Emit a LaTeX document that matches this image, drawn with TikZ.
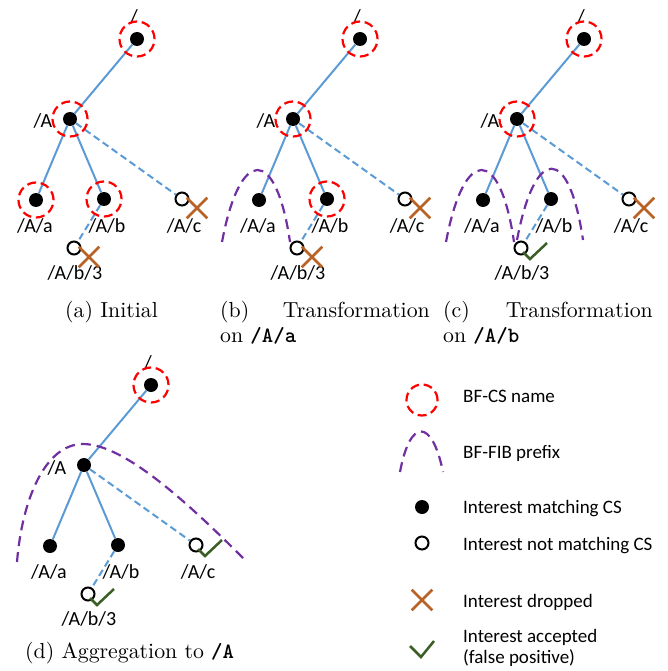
\documentclass[tikz,border=0pt]{standalone}
\usepackage{fontspec}
\newfontfamily\calfont{Carlito}
\newfontfamily\capfont{lmroman10-regular.otf}
\usetikzlibrary{shapes.misc}
\definecolor{eblue}{HTML}{5B9BD5}
\definecolor{fibpurple}{HTML}{7030A0}
\definecolor{dropbrown}{RGB}{184,98,38}
\definecolor{okgreen}{RGB}{59,94,39}
\tikzset{
 dot/.style={circle, fill=black, minimum size=14pt, inner sep=0pt},
 hollow/.style={circle, draw=black, line width=2pt, fill=white, minimum size=13pt, inner sep=0pt},
 edge/.style={eblue, line width=2pt},
 dedge/.style={eblue, line width=2pt, dash pattern=on 7pt off 4pt},
 csring/.style={circle, draw=red, line width=2.2pt, dash pattern=on 9pt off 4.7pt, minimum size=35pt, inner sep=0pt},
 fib/.style={fibpurple, line width=2.2pt, dash pattern=on 10pt off 6pt},
 dropmark/.style={cross out, draw=dropbrown, line width=2.6pt, minimum size=18pt, inner sep=0pt},
 okmark/.style={okgreen, line width=2.5pt},
 lbl/.style={font=\calfont\fontsize{20}{24}\selectfont, inner sep=0pt},
 lgd/.style={font=\calfont\fontsize{19}{23}\selectfont, inner sep=0pt, anchor=base west},
 captext/.style={font=\capfont\fontsize{21.8}{25}\selectfont, inner sep=0pt},
}
\newcommand{\treepanel}[2]{%
\begin{scope}[shift={#2}]
\node[dot] (#1r) at (137,39) {};
\node[dot] (#1A) at (70,119) {};
\node[dot] (#1a) at (36,200) {};
\node[dot] (#1b) at (104,199) {};
\node[hollow] (#1c) at (182,199) {};
\node[hollow] (#1b3) at (74,248) {};
\node[lbl] (#1lr) at (134,17) {/};
\node[lbl, anchor=base] (#1lA) at (43,128) {/A};
\node[lbl, anchor=base] (#1la) at (35,232) {/A/a};
\node[lbl, anchor=base] (#1lb) at (107,232) {/A/b};
\node[lbl, anchor=base] (#1lc) at (184,232) {/A/c};
\node[lbl, anchor=base] (#1lb3) at (75,279) {/A/b/3};
\draw[edge] (#1r) -- (#1A);
\draw[edge] (#1A) -- (#1a);
\draw[edge] (#1A) -- (#1b);
\draw[dedge] (#1A) -- (#1c);
\draw[dedge] (#1b) -- (#1b3);
\end{scope}}
\begin{document}
\begin{tikzpicture}[x=1pt, y=-1pt]
\useasboundingbox (0,0) rectangle (667,671);
% ---------- panel (a)
\treepanel{a}{(0,0)}
\node[csring] (aringr) at (ar) {};
\node[csring] (aringA) at (aA) {};
\node[csring] (ainga) at (aa) {};
\node[csring] (aringb) at (ab) {};
\node[dropmark] (axc) at ([shift={(15,9)}]ac.center) {};
\node[dropmark] (axb3) at ([shift={(15,9)}]ab3.center) {};
% ---------- panel (b)
\treepanel{b}{(223,0)}
\node[csring] (bringr) at (br) {};
\node[csring] (bringA) at (bA) {};
\node[csring] (bringb) at (bb) {};
\draw[fib] (222,242) .. controls (240,146) and (276,146) .. (290,242);
\node[dropmark] (bxc) at ([shift={(15,9)}]bc.center) {};
\node[dropmark] (bxb3) at ([shift={(15,9)}]bb3.center) {};
% ---------- panel (c)
\treepanel{c}{(447,0)}
\node[csring] (cringr) at (cr) {};
\node[csring] (cringA) at (cA) {};
\draw[fib] (446,242) .. controls (464,146) and (500,146) .. (514,242);
\draw[fib] (517,240) .. controls (535,145) and (569,145) .. (583,240);
\node[dropmark] (cxc) at ([shift={(15,9)}]cc.center) {};
\draw[okmark] ([shift={(2,4)}]cb3.center) -- ++(7,7) -- ++(17,-16);
% ---------- panel (d)
\treepanel{d}{(14,346)}
\node[csring] (dringr) at (dr) {};
\draw[fib] (17,562) .. controls (22,500) and (45,444) .. (83,444)
  .. controls (125,444) and (190,505) .. (245,560);
\draw[okmark] ([shift={(2,4)}]dc.center) -- ++(7,7) -- ++(17,-16);
\draw[okmark] ([shift={(2,4)}]db3.center) -- ++(7,7) -- ++(17,-16);
% ---------- captions
\node[captext, anchor=base west] (capa) at (65,317) {(a) Initial};
\node[captext, anchor=base west] (capb1) at (220,317) {(b)};
\node[captext, anchor=base east] (capb2) at (430,317) {Transformation};
\node[captext, anchor=base west] (capb3) at (220,342) {on \texttt{\bfseries /A/a}};
\node[captext, anchor=base west] (capc1) at (443,317) {(c)};
\node[captext, anchor=base east] (capc2) at (653,317) {Transformation};
\node[captext, anchor=base west] (capc3) at (443,342) {on \texttt{\bfseries /A/b}};
\node[captext, anchor=base west] (capd) at (25,658) {(d) Aggregation to \texttt{\bfseries /A}};
% ---------- legend
\node[csring, minimum size=31pt] (lgring) at (422,400) {};
\node[lgd] (lg1) at (463,402) {BF-CS name};
\draw[fib] (400,472) .. controls (410,418) and (432,418) .. (443,472);
\node[lgd] (lg2) at (463,458) {BF-FIB prefix};
\node[dot] (lgdot) at (422,507) {};
\node[lgd] (lg3) at (463,513) {Interest matching CS};
\node[hollow] (lghol) at (422,543) {};
\node[lgd] (lg4) at (463,550) {Interest not matching CS};
\node[dropmark] (lgx) at (422,600) {};
\node[lgd] (lg5) at (463,607) {Interest dropped};
\draw[okmark] (410,646) -- (421,657) -- (434,641);
\node[lgd] (lg6) at (463,642) {Interest accepted};
\node[lgd] (lg7) at (463,663) {(false positive)};
\end{tikzpicture}
\end{document}
